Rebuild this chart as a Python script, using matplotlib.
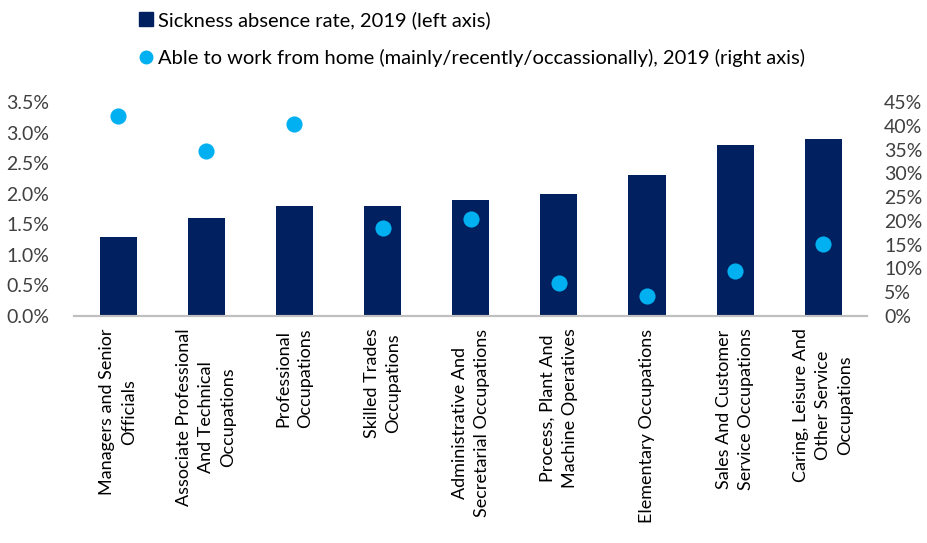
import matplotlib
matplotlib.use("Agg")
import matplotlib.pyplot as plt
from matplotlib.lines import Line2D
from matplotlib.ticker import FuncFormatter
import numpy as np

plt.rcParams['font.family'] = ['Lato', 'DejaVu Sans']

categories = [
    "Managers and Senior\nOfficials",
    "Associate Professional\nAnd Technical\nOccupations",
    "Professional\nOccupations",
    "Skilled Trades\nOccupations",
    "Administrative And\nSecretarial Occupations",
    "Process, Plant And\nMachine Operatives",
    "Elementary Occupations",
    "Sales And Customer\nService Occupations",
    "Caring, Leisure And\nOther Service\nOccupations",
]
sickness_rate = [1.3, 1.6, 1.8, 1.8, 1.9, 2.0, 2.3, 2.8, 2.9]        # %, left axis
work_from_home = [42.0, 34.7, 40.3, 18.6, 20.5, 7.0, 4.3, 9.4, 15.2]  # %, right axis

navy = "#002060"
sky = "#00B0F0"
text_col = "#404040"

fig = plt.figure(figsize=(9.28, 5.43), dpi=100)
ax = fig.add_axes([0.0797, 0.418, 0.855, 0.394])
ax2 = ax.twinx()

x = np.arange(len(categories))
ax.bar(x, sickness_rate, width=0.42, color=navy, zorder=2)
ax2.scatter(x, work_from_home, s=135, color=sky, zorder=3, linewidths=0)

ax.set_xlim(-0.5, len(categories) - 0.5)
ax.set_ylim(0, 3.5)
ax.set_yticks(np.arange(0, 3.51, 0.5))
ax.yaxis.set_major_formatter(FuncFormatter(lambda v, p: f"{v:.1f}%"))
ax2.set_ylim(0, 45)
ax2.set_yticks(np.arange(0, 46, 5))
ax2.yaxis.set_major_formatter(FuncFormatter(lambda v, p: f"{v:.0f}%"))

for a in (ax, ax2):
    for side in ("top", "left", "right"):
        a.spines[side].set_visible(False)
    a.spines["bottom"].set_color("#BFBFBF")
    a.spines["bottom"].set_linewidth(1.5)
    a.tick_params(axis="y", length=0, labelsize=14, labelcolor=text_col)

ax.tick_params(axis="y", pad=18)
ax2.tick_params(axis="y", pad=12)
ax.set_xticks(x)
ax.set_xticklabels(categories, rotation=90, ha="center", va="top",
                   multialignment="center", fontsize=13, color="black",
                   linespacing=1.45)
ax.tick_params(axis="x", length=0, pad=9)

handles = [
    Line2D([], [], marker="s", linestyle="none", color=navy, markersize=10),
    Line2D([], [], marker="o", linestyle="none", color=sky, markersize=9),
]
labels = [
    "Sickness absence rate, 2019 (left axis)",
    "Able to work from home (mainly/recently/occassionally), 2019 (right axis)",
]
fig.legend(handles, labels, loc="upper left", bbox_to_anchor=(0.131, 1.012),
           frameon=False, fontsize=14.5, handlelength=0.6, handletextpad=0.3,
           labelspacing=0.95, labelcolor="black")

fig.savefig("out.png", dpi=100)
